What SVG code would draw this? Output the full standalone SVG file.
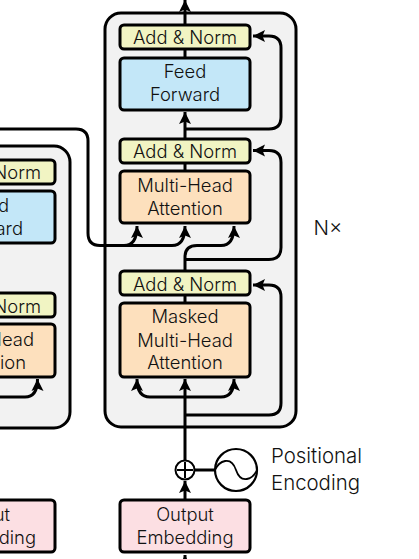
<svg xmlns="http://www.w3.org/2000/svg" width="419" height="559" viewBox="0 0 419 559">
<style>
.c{fill:none;stroke:#000;stroke-width:3}
.a{marker-end:url(#ah)}
.b{stroke:#000;stroke-width:3}
.norm{fill:#f1f4c3}.ff{fill:#c3e7f8}.att{fill:#fde0bd}.emb{fill:#fcdfe3}
.frame{fill:#f2f2f2;stroke:#000;stroke-width:3}
text{font-family:Inter,Roboto,"Liberation Sans",sans-serif;font-weight:300;font-size:18.4px;fill:#111;text-anchor:middle}
.e{text-anchor:end}
.big{font-size:20.4px;text-anchor:start}
.nx{font-size:20.4px}
</style>
<defs>
<marker id="ah" markerUnits="userSpaceOnUse" markerWidth="14" markerHeight="14" refX="12" refY="6" orient="auto" viewBox="0 0 14 12">
<path d="M0,0 L12,6 L0,12 L2.500,6Z" fill="#000"/>
</marker>
</defs>
<rect width="419" height="559" fill="#fff"/>
<g id="encoder-frame"><rect class="frame" x="-60" y="146" width="130" height="282" rx="16"/></g>
<g id="decoder-frame"><rect class="frame" x="105" y="13" width="191" height="414" rx="16"/></g>
<g id="enc-norm-2"><rect class="b norm" x="-75" y="160" width="130" height="24" rx="4"/><text class="e" x="41" y="178.500">Norm</text></g>
<g id="enc-feed"><rect class="b ff" x="-75" y="191" width="130" height="52" rx="4"/><text class="e" x="9" y="211.500">d</text><text class="e" x="23" y="234.500">ard</text></g>
<g id="enc-norm-1"><rect class="b norm" x="-75" y="293" width="130" height="24" rx="4"/><text class="e" x="41" y="312.500">Norm</text></g>
<g id="enc-attention"><rect class="b att" x="-75" y="324" width="130" height="53" rx="4"/><text class="e" x="34" y="345.500">Head</text><text class="e" x="26" y="368.500">tion</text></g>
<g id="enc-embedding"><rect class="b emb" x="-75" y="500" width="130" height="52" rx="4"/><text class="e" x="10" y="520.500">ut</text><text class="e" x="36" y="543.500">ding</text></g>
<g id="dec-norm-3"><rect class="b norm" x="120" y="25" width="130" height="24" rx="4"/><text x="185" y="43.500">Add &amp; Norm</text></g>
<g id="dec-feed"><rect class="b ff" x="120" y="58" width="130" height="52" rx="4"/><text x="185" y="77.500">Feed</text><text x="185" y="100.500">Forward</text></g>
<g id="dec-norm-2"><rect class="b norm" x="120" y="139" width="130" height="24" rx="4"/><text x="185" y="157.500">Add &amp; Norm</text></g>
<g id="dec-attention"><rect class="b att" x="120" y="171" width="130" height="52" rx="4"/><text x="185" y="191.500">Multi-Head</text><text x="185" y="214.500">Attention</text></g>
<g id="dec-norm-1"><rect class="b norm" x="120" y="271" width="130" height="24" rx="4"/><text x="185" y="290.500">Add &amp; Norm</text></g>
<g id="dec-masked"><rect class="b att" x="120" y="303" width="130" height="74" rx="4"/><text x="185" y="322.500">Masked</text><text x="185" y="346.500">Multi-Head</text><text x="185" y="368.500">Attention</text></g>
<g id="dec-embedding"><rect class="b emb" x="120" y="500" width="130" height="52" rx="4"/><text x="185" y="520.500">Output</text><text x="185" y="543.500">Embedding</text></g>
<g id="add-circle"><circle cx="185" cy="470" r="9.500" fill="#fff" stroke="#000" stroke-width="2"/><path d="M177,470H193M185,462V478" fill="none" stroke="#000" stroke-width="2"/></g>
<g id="positional-encoding"><circle cx="236" cy="470" r="21" fill="#fff" stroke="#000" stroke-width="2.200"/><path d="M215,470C219,461 231,455 236,470C241,485 253,479 257,470" fill="none" stroke="#000" stroke-width="1.800"/><text class="big" x="271" y="463">Positional</text><text class="big" x="271" y="490">Encoding</text></g>
<g id="nx"><text class="nx" x="328" y="235">N×</text></g>
<g id="connectors">
<path class="c a" d="M185,25V0"/>
<path class="c" d="M185,58V49M185,171V163M185,303V295"/>
<path class="c a" d="M185,139V112"/>
<path class="c a" d="M185,129H269Q281,129 281,117V48Q281,36 269,36H253"/>
<path class="c a" d="M185,259.500H269Q281,259.500 281,247.500V162.500Q281,150.500 269,150.500H253"/>
<path class="c a" d="M185,415H269Q281,415 281,403V297Q281,285 269,285H253"/>
<path class="c a" d="M0,129H76Q88,129 88,141V233Q88,245.500 100,245.500H124Q137,245.500 137,226"/>
<path class="c a" d="M124,245.500H172Q185,245.500 185,226"/>
<path class="c a" d="M185,271V257Q185,245.500 197,245.500H221Q234,245.500 234,226"/>
<path class="c a" d="M185,460V379"/>
<path class="c a" d="M185,397H150Q137,397 137,379"/>
<path class="c a" d="M185,397H221Q234,397 234,379"/>
<path class="c a" d="M0,397H25Q37.500,397 37.500,379"/>
<path class="c a" d="M185,500V481"/>
<path class="c" d="M195,470H215"/>
<path class="c a" d="M185,567V555"/>
</g>
</svg>
